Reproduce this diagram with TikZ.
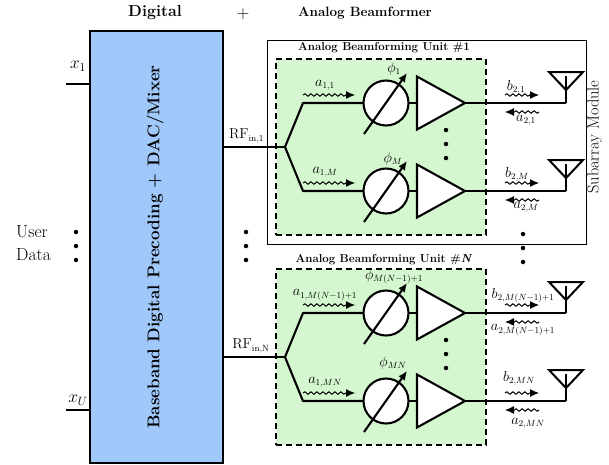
\documentclass[tikz,border=0pt]{standalone}
\usetikzlibrary{shapes.geometric,decorations.pathmorphing,arrows.meta}
\definecolor{blockblue}{HTML}{A0C8FA}
\definecolor{unitgreen}{HTML}{D5F7D0}
\tikzset{
  wire/.style={line width=2.1pt,line join=round},
  wave/.style={line width=1pt,-{Latex[length=9pt,width=8pt]},decorate,decoration={snake,amplitude=1.2pt,segment length=6pt,post length=9pt}},
  unitbox/.style={draw,fill=unitgreen,dashed,dash pattern=on 6pt off 4pt,line width=1.8pt,minimum width=210pt,minimum height=176pt,inner sep=0,outer sep=0,anchor=north west},
  shifter/.style={circle,draw,fill=white,line width=2.1pt,minimum size=45pt,inner sep=0,outer sep=0},
  amp/.style={isosceles triangle,isosceles triangle stretches,draw,fill=white,line width=2.1pt,minimum width=53pt,minimum height=48pt,inner sep=0,outer sep=0,anchor=apex},
  dot/.style={circle,fill=black,minimum size=4.5pt,inner sep=0},
  lab/.style={font=\fontsize{13.5}{15}\selectfont,inner sep=0},
  big/.style={font=\fontsize{17.5}{20}\selectfont,inner sep=0},
  ttl/.style={font=\fontsize{13.5}{16}\selectfont\bfseries,inner sep=0},
  unitttl/.style={font=\fontsize{11.5}{13}\selectfont\bfseries,inner sep=0},
}
% #1 name, #2 row y, #3 feed junction
\newcommand{\brow}[3]{%
  \coordinate (#1c) at (303,#2);
  \coordinate (#1ant) at (566,#2);
  \node[shifter] (#1s) at (386,#2) {};
  \node[amp] (#1a) at (465,#2) {};
  \draw[wire] (#3) -- (#1c) -- (#1s);
  \draw[wire] (#1s) -- (#1a.west|-#1s);
  \draw[wire] (#1a.apex) -- (#1ant);
  \coordinate (#1p0) at (364,#2+31);
  \coordinate (#1p1) at (407,#2-30);
  \draw[line width=2.1pt,-{Latex[length=9pt,width=8pt]}] (#1p0) -- (#1p1);
  \coordinate (#1l) at (549,#2-31);
  \coordinate (#1r) at (583,#2-31);
  \coordinate (#1v) at (566,#2-13);
  \draw[line width=2pt,line join=miter] (#1l) -- (#1r) -- (#1v) -- cycle;
  \coordinate (#1st) at (566,#2-27);
  \draw[line width=1.5pt] (#1st) -- (#1ant);
  \coordinate (#1w0) at (303,#2-8);
  \coordinate (#1w1) at (355,#2-8);
  \coordinate (#1w2) at (505,#2-8);
  \coordinate (#1w3) at (539,#2-8);
  \coordinate (#1w4) at (539,#2+9);
  \coordinate (#1w5) at (505,#2+9);
  \draw[wave] (#1w0) -- (#1w1);
  \draw[wave] (#1w2) -- (#1w3);
  \draw[wave] (#1w4) -- (#1w5);
}
\newcommand{\vdotsat}[3]{%
  \node[dot] (#1a) at (#2,#3) {};
  \node[dot] (#1b) at (#2,#3+14) {};
  \node[dot] (#1c) at (#2,#3+28) {};
}
\begin{document}
\begin{tikzpicture}[x=1pt,y=-1pt]
\useasboundingbox (0,0) rectangle (609,464);
\node[ttl,font=\fontsize{16}{18}\selectfont\bfseries] (tdig) at (155,13) {Digital};
\node[big] (tplus) at (243,14) {$+$};
\node[ttl] (tana) at (365,13) {Analog Beamformer};
% baseband block
\node[draw,fill=blockblue,line width=1.8pt,minimum width=133pt,minimum height=432pt,inner sep=0,outer sep=0] (bb) at (156.5,247) {};
\node[rotate=90,font=\fontsize{17}{20}\selectfont\bfseries,inner sep=0] (bbt) at (155,247) {Baseband Digital Precoding + DAC/Mixer};
% user inputs
\coordinate (x1) at (66,84);
\coordinate (xU) at (66,410);
\draw[wire] (x1) -- (bb.west|-x1);
\draw[wire] (xU) -- (bb.west|-xU);
\node[big] (x1l) at (78,66) {$x_1$};
\node[big] (xUl) at (78,400) {$x_U$};
\node[big,anchor=west] (ud1) at (16,232) {User};
\node[big,anchor=west] (ud2) at (16,255) {Data};
\vdotsat{dl}{76}{232}
\vdotsat{dm}{246}{232}
% subarray
\node[draw,line width=0.9pt,minimum width=319pt,minimum height=204pt,inner sep=0,outer sep=0,anchor=north west] (sub) at (267,40) {};
\node[rotate=90,font=\fontsize{16.3}{18}\selectfont,inner sep=0] (subt) at (594.5,137) {Subarray Module};
% units
\node[unitbox] (u1) at (276,59) {};
\node[unitbox] (uN) at (276,269) {};
\node[unitttl] (u1t) at (384,48) {Analog Beamforming Unit \#1};
\node[unitttl] (uNt) at (384,260) {Analog Beamforming Unit \#\textit{N}};
% RF feeds
\coordinate (j1) at (285,147);
\coordinate (jN) at (285,357);
\draw[wire] (bb.east|-j1) -- (j1);
\draw[wire] (bb.east|-jN) -- (jN);
\node[lab] (rf1) at (246.5,136) {$\mathrm{RF}_{\mathrm{in,1}}$};
\node[lab] (rfN) at (251,346) {$\mathrm{RF}_{\mathrm{in,N}}$};
% rows
\brow{ra}{103}{j1}
\brow{rb}{191}{j1}
\brow{rc}{313}{jN}
\brow{rd}{401}{jN}
\vdotsat{du}{446}{130}
\vdotsat{dv}{446}{340}
\vdotsat{dr}{523}{234}
% labels
\node[lab] (l1) at (325,85) {$a_{1,1}$};
\node[lab] (l2) at (394,69) {$\phi_1$};
\node[lab] (l3) at (516,87) {$b_{2,1}$};
\node[lab] (l4) at (526,120) {$a_{2,1}$};
\node[lab] (l5) at (325,172) {$a_{1,M}$};
\node[lab] (l6) at (393,159) {$\phi_M$};
\node[lab] (l7) at (517,174) {$b_{2,M}$};
\node[lab] (l8) at (526,207) {$a_{2,M}$};
\node[lab] (l9) at (325,295) {$a_{1,M(N-1)+1}$};
\node[lab] (l10) at (394,277) {$\phi_{M(N-1)+1}$};
\node[lab] (l11) at (523,296) {$b_{2,M(N-1)+1}$};
\node[lab] (l12) at (523,330) {$a_{2,M(N-1)+1}$};
\node[lab] (l13) at (325,382) {$a_{1,MN}$};
\node[lab] (l14) at (393,363) {$\phi_{MN}$};
\node[lab] (l15) at (519,378) {$b_{2,MN}$};
\node[lab] (l16) at (528,423) {$a_{2,MN}$};
\end{tikzpicture}
\end{document}
